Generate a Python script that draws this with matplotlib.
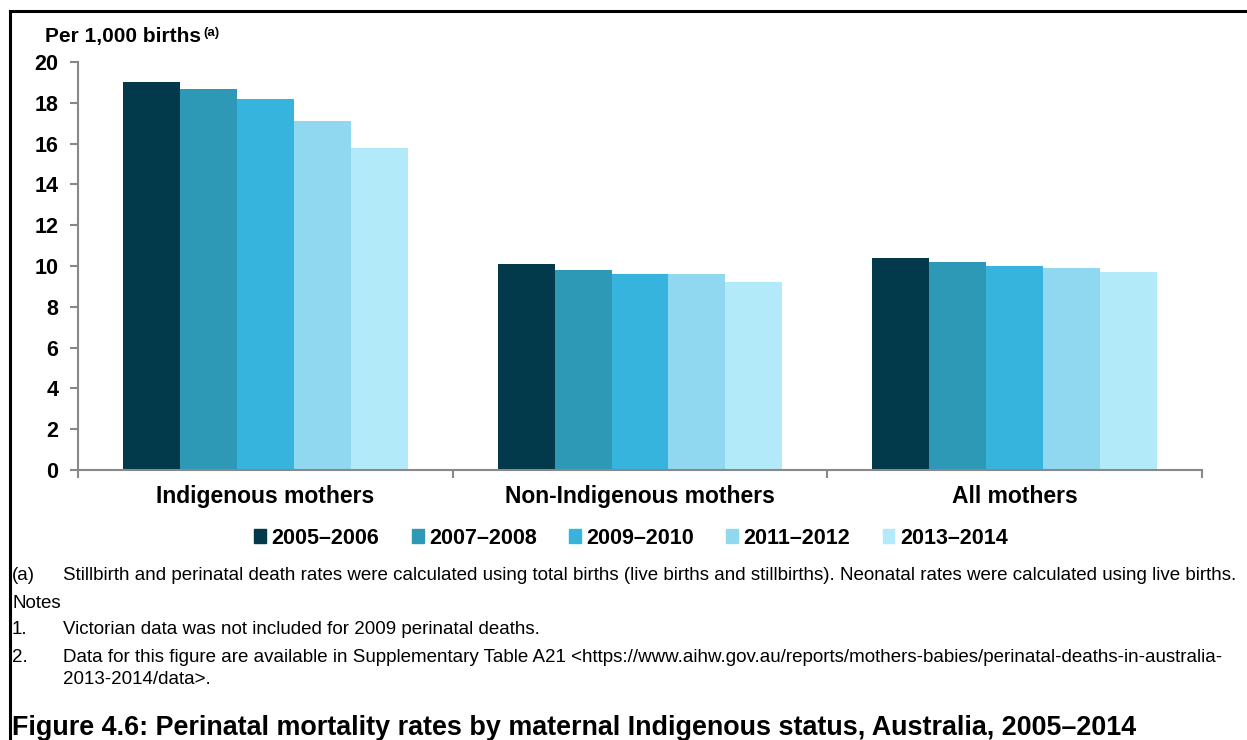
import numpy as np
import matplotlib.pyplot as plt
from matplotlib.lines import Line2D
from matplotlib.patches import Patch

plt.rcParams['font.family'] = ['Liberation Sans', 'DejaVu Sans']

# data
groups = ['Indigenous mothers', 'Non-Indigenous mothers', 'All mothers']
periods = ['2005–2006', '2007–2008', '2009–2010', '2011–2012', '2013–2014']
rates = {
    '2005–2006': [19.0, 10.1, 10.4],
    '2007–2008': [18.7, 9.8, 10.2],
    '2009–2010': [18.2, 9.6, 10.0],
    '2011–2012': [17.1, 9.6, 9.9],
    '2013–2014': [15.8, 9.2, 9.7],
}
colors = ['#033a4b', '#2e98b7', '#36b4dd', '#8fd8f0', '#b3eaf9']
yticks = [0, 2, 4, 6, 8, 10, 12, 14, 16, 18, 20]

W, H = 1247, 740
fig = plt.figure(figsize=(W / 100, H / 100), dpi=100)
ax = fig.add_axes([78 / W, 1 - 470 / H, (1202 - 78) / W, (470 - 62) / H])

x = np.arange(len(groups))
bw = 0.152
for i, p in enumerate(periods):
    ax.bar(x + (i - 2) * bw, rates[p], width=bw, color=colors[i],
           edgecolor='none', label=p)

ax.set_xlim(-0.5, 2.5)
ax.set_ylim(0, 20)
ax.set_yticks(yticks)
ax.set_yticklabels([str(t) for t in yticks], fontsize=15.5, fontweight='bold')
ax.set_xticks(x)
ax.set_xticklabels(groups, fontsize=16.5, fontweight='bold')
ax.tick_params(axis='x', length=0, pad=11)
ax.set_xticks([-0.5, 0.5, 1.5, 2.5], minor=True)
ax.tick_params(axis='x', which='minor', length=6, color='#888888', width=1.5)
ax.tick_params(axis='y', length=6, color='#888888', width=1.5, pad=8)
for s in ['top', 'right']:
    ax.spines[s].set_visible(False)
for s in ['left', 'bottom']:
    ax.spines[s].set_color('#888888')
    ax.spines[s].set_linewidth(1.5)

fig.text(45 / W, 1 - 42 / H, 'Per 1,000 births', fontsize=15, fontweight='bold')
fig.text(203 / W, 1 - 36 / H, '(a)', fontsize=9.5, fontweight='bold')

handles = [Patch(color=c) for c in colors]
fig.legend(handles, periods, ncol=5, loc='center', bbox_to_anchor=(631 / W, 1 - 538 / H),
           frameon=False, prop={'size': 15.5, 'weight': 'bold'},
           handlelength=0.55, handleheight=0.6, handletextpad=0.25, columnspacing=1.5)

fs = 13.5
fig.text(12 / W, 1 - 576 / H, '(a)', fontsize=fs, va='center')
fig.text(63 / W, 1 - 576 / H, 'Stillbirth and perinatal death rates were calculated using total births '
         '(live births and stillbirths). Neonatal rates were calculated using live births.',
         fontsize=fs, va='center')
fig.text(12 / W, 1 - 603 / H, 'Notes', fontsize=fs, va='center')
fig.text(12 / W, 1 - 630 / H, '1.', fontsize=fs, va='center')
fig.text(63 / W, 1 - 630 / H, 'Victorian data was not included for 2009 perinatal deaths.',
         fontsize=fs, va='center')
fig.text(12 / W, 1 - 657 / H, '2.', fontsize=fs, va='center')
fig.text(63 / W, 1 - 657 / H, 'Data for this figure are available in Supplementary Table A21 '
         '<https://www.aihw.gov.au/reports/mothers-babies/perinatal-deaths-in-australia-',
         fontsize=fs, va='center')
fig.text(63 / W, 1 - 679 / H, '2013-2014/data>.', fontsize=fs, va='center')
fig.text(12 / W, 1 - 728 / H, 'Figure 4.6: Perinatal mortality rates by maternal Indigenous status, '
         'Australia, 2005–2014', fontsize=19.4, fontweight='bold', va='center')

# frame lines (top and left)
fig.add_artist(Line2D([10 / W, 1], [1 - 11 / H, 1 - 11 / H], color='black', lw=2.2))
fig.add_artist(Line2D([10 / W, 10 / W], [0, 1 - 11 / H], color='black', lw=2.2))

fig.savefig('out.png', dpi=100)
